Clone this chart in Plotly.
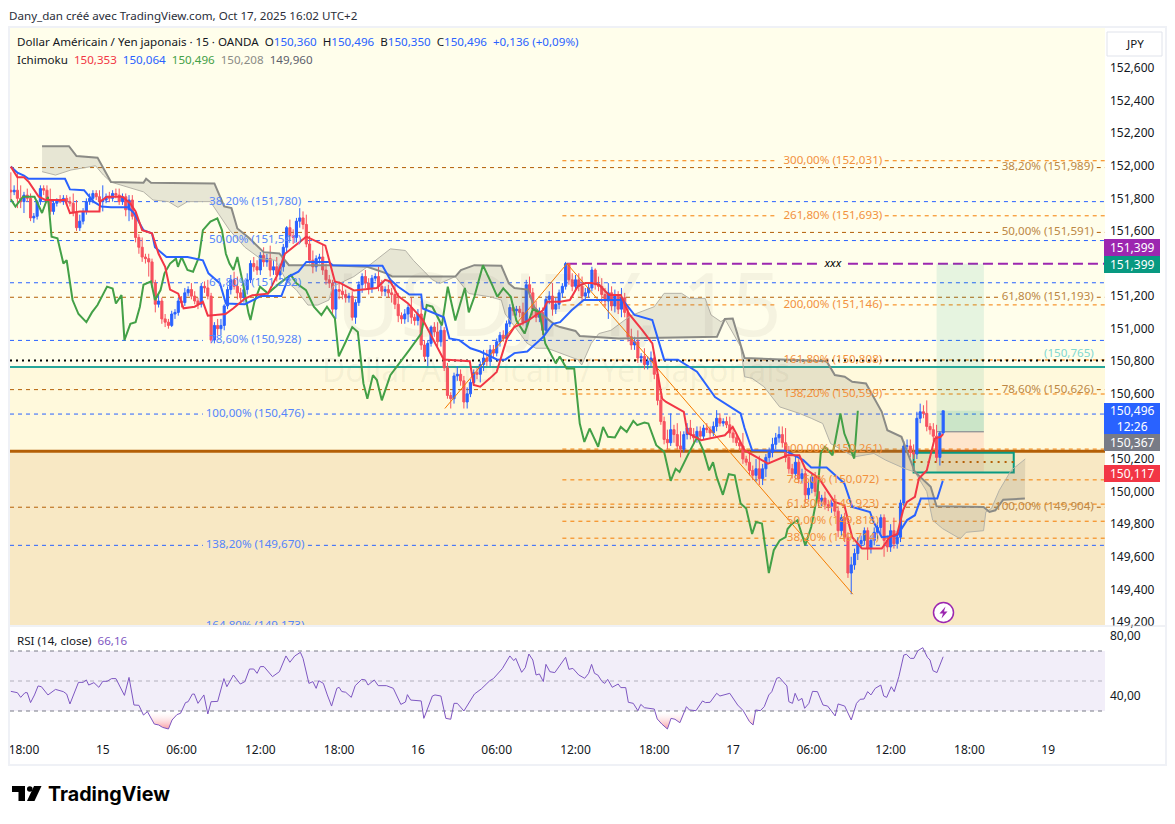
import plotly.graph_objects as go
from plotly.subplots import make_subplots

W, H = 1175, 824

# first bar sits left of the visible edge, last bar is Oct 17 16:00
first_bar = -4
closes = [
    151.84, 151.85, 151.80, 151.78, 151.82, 151.80, 151.68, 151.69, 151.78, 151.86,
    151.85, 151.79, 151.72, 151.77, 151.79, 151.78, 151.80, 151.78, 151.77, 151.71,
    151.62, 151.66, 151.72, 151.78, 151.80, 151.83, 151.81, 151.78, 151.79, 151.81,
    151.80, 151.83, 151.82, 151.78, 151.81, 151.73, 151.79, 151.69, 151.56, 151.50,
    151.44, 151.43, 151.41, 151.28, 151.15, 151.17, 151.06, 151.04, 151.02, 151.09,
    151.10, 151.17, 151.16, 151.22, 151.24, 151.20, 151.17, 151.15, 151.26, 151.25,
    151.20, 150.93, 151.02, 151.00, 151.02, 151.14, 151.24, 151.30, 151.26, 151.22,
    151.19, 151.24, 151.30, 151.40, 151.38, 151.36, 151.45, 151.41, 151.43, 151.36,
    151.38, 151.33, 151.38, 151.50, 151.62, 151.57, 151.56, 151.66, 151.68, 151.64,
    151.52, 151.42, 151.38, 151.43, 151.44, 151.36, 151.30, 151.28, 151.12, 151.24,
    151.23, 151.21, 151.19, 151.20, 151.07, 151.16, 151.27, 151.32, 151.28, 151.25,
    151.31, 151.32, 151.26, 151.23, 151.24, 151.22, 151.21, 151.15, 151.08, 151.06,
    151.09, 151.13, 151.07, 151.05, 151.09, 150.90, 150.83, 150.91, 151.01, 150.98,
    150.92, 150.99, 150.76, 150.59, 150.57, 150.71, 150.72, 150.68, 150.55, 150.60,
    150.67, 150.73, 150.72, 150.78, 150.82, 150.80, 150.87, 150.85, 150.92, 150.96,
    150.94, 151.03, 151.13, 151.11, 151.12, 151.10, 151.04, 151.27, 151.22, 151.12,
    151.07, 151.10, 150.99, 151.18, 151.20, 151.12, 151.15, 151.22, 151.26, 151.40,
    151.30, 151.26, 151.30, 151.26, 151.20, 151.22, 151.25, 151.36, 151.27, 151.26,
    151.21, 151.17, 151.22, 151.14, 151.20, 151.12, 151.19, 151.10, 150.95, 150.90,
    150.92, 150.82, 150.83, 150.78, 150.80, 150.82, 150.72, 150.56, 150.43, 150.32,
    150.30, 150.38, 150.35, 150.28, 150.26, 150.35, 150.39, 150.35, 150.33, 150.37,
    150.34, 150.39, 150.38, 150.36, 150.40, 150.45, 150.42, 150.43, 150.41, 150.36,
    150.33, 150.30, 150.28, 150.20, 150.18, 150.13, 150.10, 150.14, 150.08, 150.14,
    150.21, 150.24, 150.29, 150.33, 150.35, 150.30, 150.21, 150.14, 150.11, 150.18,
    150.08, 150.11, 149.98, 150.02, 150.09, 150.00, 149.94, 149.96, 149.92, 149.91,
    149.93, 149.88, 149.76, 149.84, 149.72, 149.50, 149.55, 149.62, 149.68, 149.70,
    149.76, 149.65, 149.70, 149.75, 149.78, 149.84, 149.70, 149.66, 149.76, 149.68,
    149.72, 149.93, 150.28, 150.28, 150.24, 150.23, 150.45, 150.49, 150.48, 150.40,
    150.38, 150.34, 150.21, 150.36, 150.496,
]
# wick lengths above and below the body, in hundredths of a yen
upper_wick = [
    11, 3, 11, 8, 2, 4, 3, 2, 1, 2,
    2, 3, 7, 2, 1, 3, 2, 2, 3, 6,
    8, 4, 2, 2, 3, 2, 2, 4, 9, 2,
    3, 2, 3, 4, 2, 2, 3, 3, 3, 2,
    6, 2, 3, 2, 2, 4, 2, 3, 2, 2,
    2, 2, 3, 3, 2, 4, 3, 2, 2, 3,
    5, 2, 2, 4, 4, 1, 2, 3, 5, 6,
    3, 4, 4, 2, 4, 4, 2, 5, 3, 8,
    4, 6, 2, 2, 1, 5, 4, 2, 6, 4,
    6, 5, 6, 2, 2, 8, 4, 3, 2, 4,
    5, 5, 3, 2, 3, 2, 2, 2, 4, 3,
    2, 2, 6, 4, 2, 3, 3, 6, 7, 2,
    3, 2, 6, 2, 3, 8, 3, 2, 1, 3,
    6, 3, 2, 3, 2, 2, 5, 3, 3, 4,
    2, 2, 3, 2, 5, 5, 3, 3, 2, 2,
    3, 2, 2, 2, 2, 2, 6, 3, 5, 3,
    5, 3, 3, 2, 3, 8, 4, 2, 2, 1,
    0, 4, 3, 4, 6, 3, 3, 2, 1, 5,
    5, 4, 6, 4, 4, 3, 6, 3, 3, 5,
    3, 7, 2, 5, 3, 4, 3, 3, 3, 3,
    6, 10, 3, 7, 9, 2, 3, 5, 4, 3,
    3, 2, 3, 2, 3, 5, 3, 2, 3, 5,
    3, 3, 2, 8, 2, 7, 3, 6, 8, 3,
    2, 3, 4, 3, 5, 5, 9, 7, 3, 4,
    2, 3, 2, 4, 2, 3, 6, 2, 4, 3,
    2, 5, 3, 2, 3, 3, 5, 3, 4, 3,
    2, 2, 3, 3, 3, 2, 2, 3, 4, 8,
    4, 2, 3, 4, 4, 5, 4, 5, 4, 8,
    2, 4, 7, 1, 0,
]
lower_wick = [
    5, 2, 6, 4, 7, 2, 2, 3, 2, 2,
    3, 2, 2, 2, 2, 1, 2, 2, 2, 2,
    2, 2, 2, 2, 2, 3, 2, 2, 6, 2,
    2, 2, 2, 2, 2, 4, 7, 2, 3, 4,
    3, 3, 9, 3, 5, 2, 3, 3, 2, 1,
    3, 2, 3, 2, 2, 2, 2, 3, 2, 3,
    2, 2, 2, 4, 4, 3, 2, 3, 2, 4,
    2, 3, 3, 2, 3, 3, 3, 3, 3, 4,
    3, 4, 3, 3, 3, 3, 4, 3, 4, 3,
    2, 2, 4, 3, 3, 3, 3, 3, 4, 6,
    5, 3, 3, 3, 2, 4, 2, 5, 3, 4,
    3, 2, 3, 3, 3, 3, 5, 3, 4, 3,
    3, 5, 4, 3, 3, 3, 3, 6, 2, 3,
    3, 3, 2, 2, 6, 3, 3, 3, 4, 4,
    2, 2, 3, 5, 4, 3, 3, 3, 2, 3,
    2, 2, 2, 3, 3, 3, 2, 3, 3, 4,
    3, 3, 3, 2, 3, 4, 3, 3, 3, 2,
    3, 3, 3, 3, 3, 2, 3, 2, 3, 3,
    5, 4, 11, 3, 4, 3, 5, 3, 3, 3,
    3, 3, 3, 3, 3, 3, 3, 3, 2, 3,
    4, 2, 5, 2, 5, 2, 3, 3, 3, 3,
    2, 2, 2, 3, 2, 3, 2, 2, 2, 3,
    3, 2, 3, 3, 2, 3, 3, 4, 4, 4,
    5, 3, 3, 3, 3, 3, 3, 3, 3, 3,
    3, 3, 5, 3, 3, 3, 3, 3, 3, 3,
    4, 3, 4, 3, 3, 3, 13, 3, 4, 3,
    3, 7, 3, 3, 4, 5, 10, 3, 3, 3,
    3, 3, 2, 2, 3, 3, 3, 3, 3, 3,
    3, 3, 3, 5, 1,
]

tenkan_idx = [-4, -2, 0, 1.5, 4.5, 6.5, 12.5, 14, 17, 23, 23.2, 25.3, 30, 32.3, 34, 36, 39, 41, 43, 44.5, 47, 48.6,
              52, 54.5, 56, 61.4, 63.8, 67.3, 69.6, 74.3, 77.2, 79.5, 86, 91.8, 94.7, 96.4, 100.5, 107.5, 110, 111.6,
              114, 117, 121.5, 127.9, 129, 135.8, 137, 139, 141.9, 144, 147.1, 149.4, 153.5, 158.2, 159.4, 163.3,
              166.3, 168.7, 171, 172.9, 175.2, 178.2, 181.8, 184.2, 188.4, 191.4, 193.2, 194.4, 195.6, 201, 202.1,
              206.3, 213.5, 215.9, 217, 219.5, 226.6, 232.6, 236.2, 238, 242.2, 246.9, 249.9, 252.3, 255.3, 261.3,
              263.7, 266, 267.8, 269, 271.4, 272.6, 275, 277.4, 279.2, 280]
tenkan_val = [151.995, 151.93, 151.93, 151.90, 151.81, 151.79, 151.79, 151.71, 151.72, 151.72, 151.78, 151.81, 151.81,
              151.77, 151.72, 151.605, 151.585, 151.46, 151.38, 151.24, 151.215, 151.125, 151.135, 151.165, 151.08,
              151.09, 151.125, 151.185, 151.205, 151.215, 151.33, 151.46, 151.565, 151.51, 151.29, 151.28, 151.235,
              151.25, 151.30, 151.29, 151.2, 151.155, 151.055, 150.81, 150.81, 150.80, 150.654, 150.644, 150.695,
              150.735, 150.94, 151.01, 151.05, 151.115, 151.165, 151.166, 151.176, 151.26, 151.28, 151.28, 151.27,
              151.207, 151.207, 151.094, 150.99, 150.91, 150.705, 150.57, 150.55, 150.49, 150.36, 150.315, 150.346,
              150.397, 150.356, 150.254, 150.172, 150.223, 150.223, 150.14, 150.08, 149.937, 149.916, 149.72, 149.65,
              149.65, 149.72, 149.74, 149.886, 149.937, 149.968, 150.08, 150.13, 150.326, 150.336, 150.353]

kijun_idx = [-4, -2, 0, 1.4, 12.5, 14, 18.3, 21.2, 23.6, 26.5, 31.7, 33.5, 36.4, 39, 39.9, 43.4, 49.8, 54.5, 56.2, 59.7,
             61.5, 67.3, 70.8, 72, 78.4, 80.7, 83.6, 86, 92.9, 94, 109.2, 111.6, 114, 117.4, 121, 121.5, 127.9, 129.6,
             132.6, 136, 139, 144.2, 146.6, 149.4, 153.3, 158.2, 161.1, 163.3, 166.9, 170.5, 182.4, 186, 191.4, 195,
             199.2, 205, 210.5, 213.5, 218.3, 219.5, 221.8, 232, 237.4, 239.8, 244.5, 249.9, 252.3, 257.7, 258.9,
             261.3, 266, 269, 271.4, 273.2, 278.2, 279.8, 280]
kijun_val = [151.995, 151.958, 151.94, 151.92, 151.92, 151.855, 151.85, 151.78, 151.75, 151.745, 151.745, 151.71,
             151.605, 151.585, 151.50, 151.44, 151.44, 151.42, 151.34, 151.278, 151.155, 151.15, 151.186, 151.2,
             151.2, 151.32, 151.35, 151.41, 151.41, 151.39, 151.386, 151.3, 151.257, 151.21, 151.21, 151.124, 151.07,
             150.94, 150.93, 150.88, 150.86, 150.81, 150.81, 150.85, 150.86, 150.95, 151.03, 151.04, 151.115, 151.176,
             151.176, 151.084, 151.053, 150.81, 150.81, 150.736, 150.58, 150.54, 150.48, 150.39, 150.254, 150.25,
             150.193, 150.148, 150.148, 150.05, 149.906, 149.875, 149.81, 149.72, 149.73, 149.825, 149.855, 149.957,
             149.957, 150.06, 150.064]

chikou_idx = [-4, -2.6, -0.3, 3.2, 5.5, 7.3, 8.4, 10.2, 12, 13, 14.8, 16.6, 19, 20.7, 22.4, 23.6, 25.3, 27, 28, 29.7,
              30.6, 32.4, 34, 35.3, 36.4, 38.7, 39.9, 41.6, 42.8, 44.5, 46.3, 46.9, 48, 49.8, 51.5, 53.3, 54.5, 56.8,
              58.9, 60.3, 61.5, 62.6, 63.8, 65, 66.7, 68.4, 69, 70.2, 71.9, 74.3, 77.8, 81.3, 83, 85.9, 88.3, 90.6,
              92.3, 94.7, 95.9, 98, 100, 101.7, 103.4, 104.6, 106.3, 107.5, 109, 111.6, 114, 117.4, 121, 122.7, 124.4,
              127.3, 129.1, 131.4, 134.3, 135.5, 137.2, 139.8, 142.4, 144.2, 146, 148.3, 150, 152.5, 155, 157, 158.8,
              162, 163.2, 165.3, 167.6, 169.3, 170.7, 172.3, 173.5, 174.9, 176.4, 177.9, 180, 181.8, 183.6, 185.6,
              186.8, 189, 190.2, 192.6, 195, 197, 198.5, 199.7, 202.7, 205.1, 206.9, 208.7, 209.9, 211, 212.9, 214.7,
              216.5, 218.3, 220, 221.8, 223, 224.8, 226.9, 228.4, 230.2, 232, 232.6, 233.8, 235.6, 238, 239.8, 241.6,
              242.7, 244, 246.3, 248.7, 249.9, 252.9, 254]
chikou_val = [151.794, 151.75, 151.81, 151.81, 151.71, 151.81, 151.565, 151.555, 151.40, 151.42, 151.176, 151.09,
              151.04, 151.10, 151.145, 151.196, 151.258, 151.247, 151.155, 151.206, 150.93, 151.03, 151.04, 151.135,
              151.27, 151.29, 151.176, 151.237, 151.34, 151.40, 151.43, 151.38, 151.44, 151.36, 151.35, 151.44, 151.605,
              151.657, 151.677, 151.605, 151.46, 151.40, 151.36, 151.44, 151.278, 151.094, 151.053, 151.165, 151.258,
              151.217, 151.278, 151.33, 151.278, 151.237, 151.135, 151.083, 151.135, 151.063, 150.83, 150.92, 151.01,
              150.98, 150.664, 150.57, 150.715, 150.685, 150.56, 150.715, 150.777, 150.87, 150.97, 151.145, 151.135,
              151.02, 151.258, 151.05, 151.25, 151.1, 151.196, 151.39, 151.278, 151.196, 151.247, 151.196, 151.05,
              150.97, 151.12, 151.1, 150.91, 150.787, 150.83, 150.756, 150.756, 150.418, 150.305, 150.387, 150.336,
              150.275, 150.397, 150.336, 150.332, 150.397, 150.366, 150.434, 150.408, 150.424, 150.418, 150.285,
              150.244, 150.066, 150.14, 150.12, 150.244, 150.336, 150.254, 150.13, 150.18, 150.09, 149.98, 150.107,
              150.10, 149.927, 149.896, 149.74, 149.814, 149.804, 149.50, 149.64, 149.70, 149.72, 149.77, 149.80,
              149.824, 149.67, 149.783, 149.968, 150.234, 150.275, 150.223, 150.479, 150.356, 150.203, 150.496]

span_a_idx = [5.5, 9.6, 14.3, 21.8, 24.2, 26.5, 36.4, 39.3, 44, 46.9, 49.8, 56.8, 59.1, 62.6, 67.3, 72, 76.6, 80.1, 83,
              86.5, 89.5, 92.9, 94, 100.5, 104.6, 111.6, 116.2, 118.6, 124.4, 126.7, 131.4, 135.5, 141.9, 145.4, 146.6,
              153.3, 155.9, 159.4, 168.7, 169.9, 172.8, 175.1, 178.8, 184.8, 192, 195, 200.3, 202.7, 207.5, 209.3,
              212.3, 213.5, 218.3, 219.5, 221.8, 225.4, 230.2, 236.2, 239.8, 243.3, 245.7, 252.9, 258.9, 262.5, 268.4,
              271.4, 275, 276.8, 279.8, 285.2, 287, 292.3, 293, 294.7, 297.1, 300.7, 305]
span_a_val = [151.964, 151.943, 151.974, 152.0, 151.943, 151.9, 151.84, 151.79, 151.78, 151.745, 151.78, 151.78,
              151.71, 151.605, 151.5, 151.43, 151.42, 151.288, 151.237, 151.145, 151.145, 151.176, 151.258, 151.32,
              151.38, 151.49, 151.48, 151.42, 151.3, 151.278, 151.32, 151.216, 151.196, 151.176, 151.09, 150.91,
              150.88, 150.88, 150.81, 150.777, 150.91, 150.97, 150.99, 151.08, 151.135, 151.217, 151.217, 151.186,
              151.186, 151.084, 151.043, 151.06, 150.89, 150.705, 150.695, 150.644, 150.52, 150.48, 150.45, 150.418,
              150.295, 150.213, 150.234, 150.193, 150.14, 150.12, 150.0, 149.824, 149.773, 149.71, 149.75, 149.76,
              149.875, 149.896, 150.008, 150.13, 150.2]

span_b_idx = [5.5, 13.7, 16, 22.4, 26.5, 36.4, 37.2, 38.7, 58, 61, 63.2, 65, 68.4, 73, 77.8, 80.7, 92.9, 104.6, 110.4,
              112.2, 131.4, 133.1, 137.2, 145.4, 147.7, 149.4, 153.5, 155.5, 157, 162, 163.3, 168, 169.3, 181.2, 211.1,
              213.5, 215.9, 218.3, 219.5, 244.5, 247, 250, 252.3, 256.5, 261.3, 263, 267.3, 271.4, 276.2, 278, 292.3,
              294.1, 295.9, 298.3, 304.9]
span_b_val = [152.12, 152.12, 152.06, 152.05, 151.90, 151.896, 151.92, 151.896, 151.892, 151.75, 151.74, 151.615,
              151.56, 151.47, 151.462, 151.39, 151.39, 151.38, 151.34, 151.32, 151.32, 151.36, 151.39, 151.386, 151.278,
              151.25, 151.24, 151.13, 151.10, 151.02, 151.01, 150.986, 150.955, 150.94, 150.95, 151.06, 151.063, 150.91,
              150.82, 150.80, 150.715, 150.705, 150.674, 150.664, 150.49, 150.377, 150.336, 150.12, 150.03, 149.91,
              149.906, 149.875, 149.885, 149.95, 149.957]

rsi_idx = [-4, -2, -1, 0.3, 1, 2, 3.2, 4.3, 5.3, 7.3, 9.6, 12, 13, 14, 16.6, 18, 19, 19.7, 21.3, 22.8, 24, 25.3, 26.7,
           28, 30.6, 32, 33.5, 35, 36.4, 37.6, 39.7, 41, 42.2, 44, 45.1, 46.6, 47.7, 49.2, 50, 51.3, 51.9, 53, 54.8, 56,
           57, 59, 60.9, 61.8, 63.8, 65.9, 67.3, 68.7, 70, 71, 72, 73.1, 75.7, 77.8, 79.8, 81, 82.5, 84.2, 85, 86.8, 88,
           89, 89.8, 91.2, 92.4, 93.7, 95.3, 96, 96.8, 98, 99.7, 100.9, 102.9, 104, 104.8, 106.7, 107.9, 110.4, 112.5,
           114.8, 116.2, 116.8, 117.8, 121, 121.8, 124.4, 125.2, 127, 128.5, 130, 131, 132, 134, 137.2, 139.3, 141.9,
           143, 145.7, 148, 149.2, 149.8, 151.6, 152.7, 153.8, 155, 156, 157, 158.2, 159, 160.2, 161.7, 165, 166, 167.2,
           169, 170.8, 172, 172.9, 173.8, 174.8, 176.1, 176.9, 177.8, 179.2, 181, 181.8, 183.3, 184.1, 185.6, 187,
           187.9, 189, 192, 192.9, 194.3, 196, 197.1, 198.3, 199.8, 201.8, 202.7, 204.7, 206.7, 207.6, 209, 211, 212,
           215, 217.4, 219.1, 221, 222.1, 222.9, 224.3, 225.5, 226.9, 227.8, 229.3, 230.1, 232.4, 233, 234.1, 234.9,
           235.9, 237, 237.8, 239.1, 240.2, 241.7, 243.4, 244.8, 247.1, 248, 250, 252, 253.6, 254.7, 255.9, 257, 258,
           259.3, 261, 261.9, 262.8, 264.2, 265.1, 266.5, 268, 268.8, 270, 271.1, 272.3, 273.8, 275.2, 276, 276.9,
           278.1, 280]
rsi_val = [43.1, 42.2, 39.1, 42.2, 42.2, 35.6, 40.7, 46.7, 46.2, 40.7, 44.4, 42.9, 41.3, 34.7, 49.1, 49.1, 50.7, 47.3,
           48.9, 45.8, 49.8, 49.8, 51.6, 51.6, 40.4, 52.4, 34, 33.8, 27.3, 29.6, 21.3, 20.7, 19.1, 18, 24, 27.6, 28.5,
           35.6, 36.2, 41.3, 41.3, 35.1, 40.7, 28, 36.2, 36.4, 51.6, 46.2, 54, 48, 49.6, 58, 58, 55.1, 59.6, 59.6, 52.9,
           56.2, 66.7, 62.5, 66.7, 69.1, 65.1, 48.4, 49.6, 45.1, 50.2, 48.4, 40.7, 33.3, 45.1, 45.8, 43, 42.5, 39.1,
           46.9, 51.1, 50.7, 47.3, 50.7, 46.9, 46.9, 45.1, 34.4, 36, 40.9, 37.3, 36.7, 25.1, 40, 40.7, 40, 25.1, 24.5,
           35.1, 35.1, 30, 41.3, 44.7, 50.2, 51.6, 58.2, 66.7, 63.6, 65.1, 55.8, 58.9, 68, 64, 54, 54.7, 49.6, 61.1, 56.2,
           55.6, 65.8, 57.8, 58.4, 54, 51.8, 55.1, 61.1, 55.1, 54, 49.6, 48.4, 51.1, 45.8, 48, 45.6, 45.6, 35.8, 35.1,
           30.2, 34.4, 32.2, 31.3, 24.7, 21.3, 18, 25.1, 24.5, 22.2, 32.9, 30.7, 30.2, 36.7, 35.6, 35.8, 41.8, 40, 41.8,
           34, 30.2, 22.9, 20.7, 30.7, 30.2, 32.9, 40.7, 42.9, 51.8, 52.4, 46.7, 36.2, 35.1, 41.8, 36.9, 38.4, 31.8, 35.1,
           43.1, 42.9, 34, 33.3, 26.7, 34.7, 33.3, 24, 35.1, 37.8, 38, 42.9, 40.7, 45.1, 47.3, 40, 39.1, 46.2, 42.9, 52.9,
           67.3, 67.8, 65.1, 65.1, 70.2, 72.2, 65.8, 64, 56.9, 55.6, 66.16]

blue_levels = [151.780, 151.541, 151.282, 150.928, 150.476, 149.670, 149.173]
blue_labels = ["38,20% (151,780)", "50,00% (151,541)", "61,80% (151,282)", "78,60% (150,928)",
               "100,00% (150,476)", "138,20% (149,670)", "164,80% (149,173)"]
orange_levels = [152.031, 151.693, 151.146, 150.808, 150.599, 150.261, 150.072, 149.923, 149.818, 149.714]
orange_labels = ["300,00% (152,031)", "261,80% (151,693)", "200,00% (151,146)", "161,80% (150,808)",
                 "138,20% (150,599)", "100,00% (150,261)", "78,60% (150,072)", "61,80% (149,923)",
                 "50,00% (149,818)", "38,20% (149,714)"]
brown_levels = [151.989, 151.591, 151.193, 150.626, 149.904]
brown_labels = ["38,20% (151,989)", "50,00% (151,591)", "61,80% (151,193)", "78,60% (150,626)", "100,00% (149,904)"]

price_ticks = [152.6, 152.4, 152.2, 152.0, 151.8, 151.6, 151.4, 151.2, 151.0, 150.8, 150.6, 150.4, 150.2, 150.0,
               149.8, 149.6, 149.4, 149.2]
time_ticks = [0, 24, 48, 72, 96, 120, 144, 168, 192, 216, 240, 264, 288, 312]
time_labels = ["18:00", "15", "06:00", "12:00", "18:00", "16", "06:00", "12:00", "18:00", "17", "06:00", "12:00",
               "18:00", "19"]

UP = "#2962FF"
DOWN = "#F7525F"
BLUE_TXT = "#5585FB"
ORANGE = "#F57C00"
ORANGE_TXT = "#F2913D"
BROWN = "#B45F06"
BROWN_TXT = "#BC8744"
TEAL = "#26A69A"
PURPLE = "#9C27B0"
RSI = "#7E57C2"
INK = "#131722"
FONT = "Noto Sans"
TXT = 11.6

# pane layout in pixels
left, right = 10, 1105
main_top, main_bottom = 27, 625
rsi_top, rsi_bottom = 627, 741


def px(x):
    return x / W


def py(y):
    return 1 - y / H


fig = make_subplots(rows=2, cols=1, shared_xaxes=True)

# backgrounds and levels go below the traces
x0, x1 = -4.26, 329.3


def band(y0, y1, color):
    fig.add_shape(type="rect", x0=x0, x1=x1, y0=y0, y1=y1, fillcolor=color, line_width=0, layer="below",
                  row=1, col=1)


def level(y, start, gaps, color, width=1, dash="4px,4px"):
    # one dashed line, broken where its label sits
    edges = [start] + [g for pair in gaps for g in pair] + [x1]
    for a, b in zip(edges[::2], edges[1::2]):
        fig.add_shape(type="line", x0=a, x1=b, y0=y, y1=y, line=dict(color=color, width=width, dash=dash),
                      layer="below", row=1, col=1)


band(150.765, 152.86, "#FFFEEB")
band(150.248, 150.765, "#FFF9DC")
band(149.17, 150.248, "#F8E8C4")

for y in blue_levels:
    level(y, x0, [(54.5, 86.5)], UP)
for y in orange_levels:
    level(y, 164, [(229.7, 262.2)], ORANGE)
for y in brown_levels:
    level(y, x0, [(297.3, 326.8)], BROWN)
level(151.399, 165.4, [(242, 251)], PURPLE, width=2, dash="10px,5px")
level(150.805, x0, [], "#000000", width=2, dash="2px,4px")
level(150.765, x0, [], TEAL, width=2, dash="solid")
level(150.248, x0, [], BROWN, width=3, dash="solid")

# long position box
fig.add_shape(type="rect", x0=278, x1=292.4, y0=150.367, y1=151.399, fillcolor="rgba(8,153,129,0.1)", line_width=0,
              layer="below", row=1, col=1)
fig.add_shape(type="rect", x0=278, x1=292.4, y0=150.367, y1=150.496, fillcolor="rgba(8,153,129,0.12)", line_width=0,
              layer="below", row=1, col=1)
fig.add_shape(type="rect", x0=278, x1=292.4, y0=150.117, y1=150.367, fillcolor="rgba(242,54,69,0.1)", line_width=0,
              layer="below", row=1, col=1)
# order block
fig.add_shape(type="rect", x0=271, x1=301.5, y0=150.117, y1=150.238, fillcolor="rgba(76,175,80,0.12)",
              line=dict(color="#089981", width=2), layer="below", row=1, col=1)
fig.add_shape(type="line", x0=271, x1=301.5, y0=150.182, y1=150.182, line=dict(color=BROWN, width=2, dash="2px,5px"),
              layer="below", row=1, col=1)
fig.add_shape(type="line", x0=278, x1=292.4, y0=150.367, y1=150.367, line=dict(color="#787B86", width=1),
              layer="below", row=1, col=1)

# cloud
fig.add_trace(go.Scatter(x=span_a_idx, y=span_a_val, mode="lines", line=dict(color="#B5B3A8", width=1),
                         hoverinfo="skip"), row=1, col=1)
fig.add_trace(go.Scatter(x=span_b_idx, y=span_b_val, mode="lines", line=dict(color="#8B8B86", width=2),
                         fill="tonexty", fillcolor="rgba(120,120,110,0.18)", hoverinfo="skip"), row=1, col=1)

# trend legs of the fib
fig.add_trace(go.Scatter(x=[128.2, 165.4, 252.5], y=[150.51, 151.399, 149.37], mode="lines",
                         line=dict(color=ORANGE, width=1), hoverinfo="skip"), row=1, col=1)

fig.add_trace(go.Scatter(x=chikou_idx, y=chikou_val, mode="lines", line=dict(color="#43A047", width=2),
                         hoverinfo="skip"), row=1, col=1)

# candles, each open taken as the previous close
bars = list(range(first_bar, first_bar + len(closes)))
opens = [closes[0] + 0.01] + closes[:-1]
opens[-1] = 150.36
highs = [max(o, c) + w / 100 for o, c, w in zip(opens, closes, upper_wick)]
lows = [min(o, c) - w / 100 for o, c, w in zip(opens, closes, lower_wick)]
fig.add_trace(go.Candlestick(x=bars, open=opens, high=highs, low=lows, close=closes, whiskerwidth=0,
                             increasing=dict(line=dict(color=UP, width=1), fillcolor=UP),
                             decreasing=dict(line=dict(color=DOWN, width=1), fillcolor=DOWN),
                             hoverinfo="skip"), row=1, col=1)

fig.add_trace(go.Scatter(x=kijun_idx, y=kijun_val, mode="lines", line=dict(color=UP, width=2), hoverinfo="skip"),
              row=1, col=1)
fig.add_trace(go.Scatter(x=tenkan_idx, y=tenkan_val, mode="lines", line=dict(color="#F23645", width=2),
                         hoverinfo="skip"), row=1, col=1)

# level labels are real text clipped by the pane, like the 164,80% one at the bottom
fig.add_trace(go.Scatter(x=[70.4] * len(blue_levels), y=blue_levels, text=blue_labels, mode="text", cliponaxis=True,
                         textfont=dict(family=FONT, size=TXT, color=BLUE_TXT), hoverinfo="skip"), row=1, col=1)
fig.add_trace(go.Scatter(x=[246.4] * len(orange_levels), y=orange_levels, text=orange_labels, mode="text",
                         textfont=dict(family=FONT, size=TXT, color=ORANGE_TXT), hoverinfo="skip"), row=1, col=1)
fig.add_trace(go.Scatter(x=[325.9] * len(brown_levels), y=brown_levels, text=brown_labels, mode="text",
                         textposition="middle left", textfont=dict(family=FONT, size=TXT, color=BROWN_TXT),
                         hoverinfo="skip"), row=1, col=1)
fig.add_trace(go.Scatter(x=[325.9], y=[150.845], text=["(150,765)"], mode="text", textposition="middle left",
                         textfont=dict(family=FONT, size=TXT, color="#80D8D0"), hoverinfo="skip"), row=1, col=1)
fig.add_trace(go.Scatter(x=[246.4], y=[151.399], text=["<i>xxx</i>"], mode="text",
                         textfont=dict(family=FONT, size=TXT, color="#000000"), hoverinfo="skip"), row=1, col=1)

# RSI pane
fig.add_shape(type="rect", x0=x0, x1=x1, y0=30, y1=70, fillcolor="rgba(126,87,194,0.1)", line_width=0, layer="below",
              row=2, col=1)
for y, c in [(70, "#787B86"), (50, "#B2B0BC"), (30, "#787B86")]:
    fig.add_shape(type="line", x0=x0, x1=x1, y0=y, y1=y, line=dict(color=c, width=1, dash="4px,4px"), layer="below",
                  row=2, col=1)
rsi_low = [min(v, 30) for v in rsi_val]
fig.add_trace(go.Scatter(x=rsi_idx, y=[30] * len(rsi_idx), mode="lines", line=dict(width=0), hoverinfo="skip"),
              row=2, col=1)
fig.add_trace(go.Scatter(x=rsi_idx, y=rsi_low, mode="lines", line=dict(width=0), fill="tonexty",
                         fillgradient=dict(type="vertical",
                                           colorscale=[[0, "rgba(242,54,69,0.5)"], [1, "rgba(255,255,255,0.05)"]]),
                         hoverinfo="skip"), row=2, col=1)
fig.add_trace(go.Scatter(x=rsi_idx, y=rsi_val, mode="lines", line=dict(color=RSI, width=1), hoverinfo="skip"),
              row=2, col=1)

# frame, separators, axis tags, logo: fixed chart furniture in pixels
paper = dict(xref="paper", yref="paper")


def box(xa, ya, xb, yb, fill=None, line=None, width=1, layer="above"):
    fig.add_shape(type="rect", x0=px(xa), x1=px(xb), y0=py(yb), y1=py(ya), fillcolor=fill,
                  line=dict(color=line, width=width) if line else dict(width=0), layer=layer, **paper)


def label(x, y, text, size=TXT, color=INK, anchor="left", **kw):
    # annotations carry ~3px of padding on the left
    xp = x - 3 if anchor == "left" else x
    fig.add_annotation(x=px(xp), y=py(y), text=text, showarrow=False, xanchor=anchor, yanchor="middle",
                       font=dict(family=kw.pop("family", FONT), size=size, color=color), **paper, **kw)


def path(points, fill=None):
    d = "M" + " L".join(f"{px(a):.5f},{py(b):.5f}" for a, b in points) + " Z"
    fig.add_shape(type="path", path=d, fillcolor=fill, line_width=0, layer="above", **paper)


box(9, 27, 1166, 765, line="#EFF1F6", width=2)
fig.add_shape(type="line", x0=px(left), x1=px(1165), y0=py(626), y1=py(626), line=dict(color="#E0E3EB", width=1),
              layer="above", **paper)

box(1107, 32, 1162, 56, line="#E0E3EB")
label(1134.5, 44, "JPY", anchor="center")

tags = [(239, 256, PURPLE, "151,399"), (256, 273, "#089981", "151,399"), (434, 451, "#787B86", "150,367"),
        (465, 482, "#F23645", "150,117")]
for ya, yb, c, t in tags:
    box(1104, ya, 1160, yb, fill=c)
    label(1132, (ya + yb) / 2, t, size=12, color="#FFFFFF", anchor="center")
box(1104, 403, 1160, 434, fill=UP)
label(1132, 411, "150,496<br>12:26", size=12, color="#FFFFFF", anchor="center", yshift=-7)

# bolt marker
fig.add_shape(type="circle", x0=px(933.5), x1=px(953.5), y0=py(622.5), y1=py(602.5), fillcolor="#FFFFFF",
              line=dict(color=PURPLE, width=1.5), layer="above", **paper)
path([(945.5, 606.5), (939.5, 613.5), (943, 613.5), (941.5, 618.5), (947.5, 611.5), (944, 611.5)], fill=PURPLE)

# header lines
label(10, 15, "Dany_dan créé avec TradingView.com, Oct 17, 2025 16:02 UTC+2", color="#2A2E39")


def col(c, t):
    return f'<span style="color:{c}">{t}</span>'


gap = "&nbsp;&nbsp;"
label(18, 42, "Dollar Américain / Yen japonais · 15 · OANDA" + gap + "O" + col(UP, "150,360") + gap + "H"
      + col(UP, "150,496") + gap + "B" + col(UP, "150,350") + gap + "C" + col(UP, "150,496") + gap
      + col(UP, "+0,136 (+0,09%)"))
label(18, 59, "Ichimoku" + gap + col("#F23645", "150,353") + gap + col(UP, "150,064") + gap + col("#43A047", "150,496")
      + gap + col("#8B8B86", "150,208") + gap + col("#5D606B", "149,960"))
label(18, 640, "RSI (14, close)" + gap + col(RSI, "66,16"))

# watermark
label(559, 302, "USDJPY, 15", size=88, color="rgba(110,105,80,0.07)", anchor="center")
label(556, 369, "Dollar Américain / Yen japonais", size=32, color="rgba(110,105,80,0.07)", anchor="center")

# TradingView mark and wordmark
path([(12, 786), (25, 786), (25, 801), (18.5, 801), (18.5, 792), (12, 792)], fill="#000000")
fig.add_shape(type="circle", x0=px(27), x1=px(32.6), y0=py(791.8), y1=py(786.2), fillcolor="#000000", line_width=0,
              layer="above", **paper)
path([(34, 786), (41.5, 786), (34.5, 801), (27, 801)], fill="#000000")
label(49, 794, "<b>TradingView</b>", size=19.7, color="#000000", family="Inter")

fig.update_layout(
    width=W, height=H, margin=dict(l=0, r=0, t=0, b=0), paper_bgcolor="#FFFFFF", plot_bgcolor="#FFFFFF",
    showlegend=False, hovermode=False, dragmode=False, boxgap=0.08, font=dict(family=FONT, size=12, color=INK),
)
fig.update_xaxes(range=[x0, x1], domain=[px(left), px(right)], showgrid=False, zeroline=False, showline=False,
                 rangeslider_visible=False, ticks="", automargin=False)
fig.update_xaxes(showticklabels=False, row=1, col=1)
fig.update_xaxes(tickmode="array", tickvals=time_ticks, ticktext=time_labels, showticklabels=True, ticklen=0,
                 tickfont=dict(family=FONT, size=12, color=INK), row=2, col=1)
fig.update_yaxes(side="right", showgrid=False, zeroline=False, showline=False, ticks="", automargin=False,
                 ticklabelstandoff=4, tickfont=dict(family=FONT, size=12, color=INK))
fig.update_yaxes(domain=[py(main_bottom), py(main_top)], range=[149.181, 152.852], tickmode="array",
                 tickvals=price_ticks, ticktext=[f"{v:.3f}".replace(".", ",") for v in price_ticks], row=1, col=1)
fig.update_yaxes(domain=[py(rsi_bottom), py(rsi_top)], range=[10, 86], tickmode="array", tickvals=[80, 40],
                 ticktext=["80,00", "40,00"], row=2, col=1)

fig.write_html("out.html", config={"displayModeBar": False},
               post_script="document.body.style.margin='0';document.body.style.overflow='hidden';")
